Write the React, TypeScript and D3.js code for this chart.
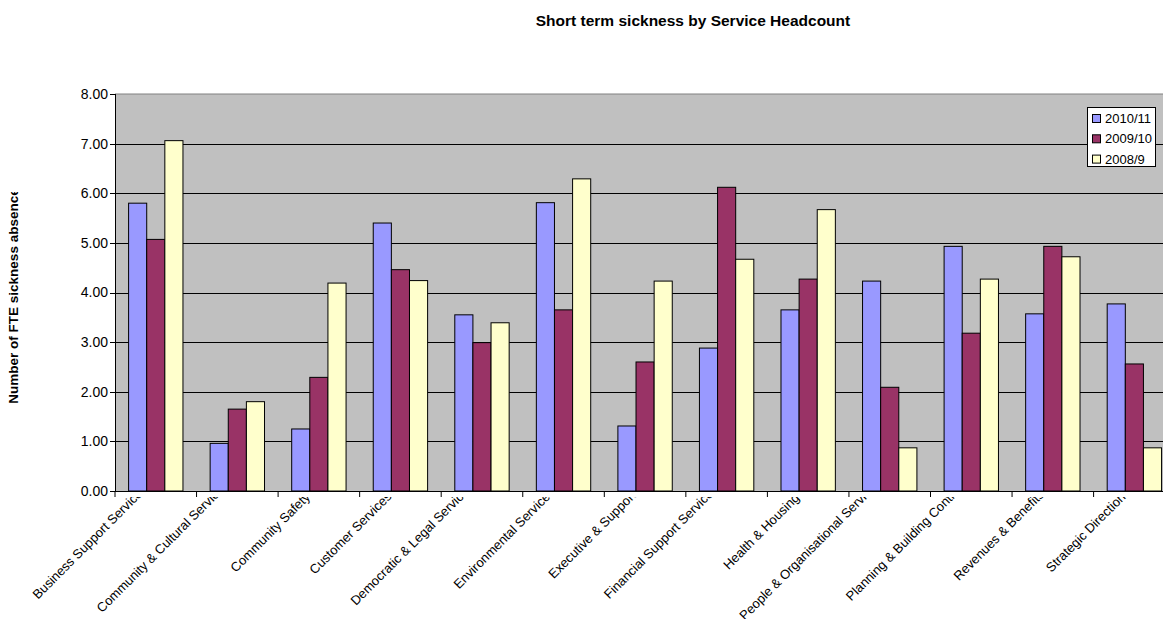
import React from 'react'
import * as d3 from 'd3'

const categories = [
  'Business Support Services',
  'Community & Cultural Services',
  'Community Safety',
  'Customer Services',
  'Democratic & Legal Services',
  'Environmental Services',
  'Executive & Support',
  'Financial Support Services',
  'Health & Housing',
  'People & Organisational Services',
  'Planning & Building Control',
  'Revenues & Benefits',
  'Strategic Direction'
]

const seriesNames = ['2010/11', '2009/10', '2008/9']
const seriesColors = ['#9999ff', '#993366', '#ffffcc']

const values201011 = [5.8, 0.96, 1.25, 5.4, 3.55, 5.81, 1.31, 2.88, 3.65, 4.23, 4.93, 3.57, 3.77]
const values200910 = [5.07, 1.65, 2.29, 4.46, 2.99, 3.65, 2.6, 6.12, 4.27, 2.09, 3.18, 4.93, 2.56]
const values20089 = [7.06, 1.8, 4.19, 4.24, 3.39, 6.29, 4.23, 4.67, 5.67, 0.87, 4.27, 4.72, 0.87]

const yTicks = [0, 1, 2, 3, 4, 5, 6, 7, 8]

const W = 1163
const H = 619
const plot = { left: 115, top: 94, bottom: 491, catW: 81.55 }
const font = '"Liberation Sans", Arial, sans-serif'

// measure label widths so long labels sit a bit higher, like Excel did
var measureCtx = null
const textWidth = (s, size) => {
  if (!measureCtx) measureCtx = document.createElement('canvas').getContext('2d')
  measureCtx.font = size + 'px "Liberation Sans", Arial, sans-serif'
  return measureCtx.measureText(s).width
}

const App = () => {
  const allSeries = [values201011, values200910, values20089]

  var x = d3
    .scaleBand()
    .domain(categories)
    .range([plot.left, plot.left + categories.length * plot.catW])
    .padding(0)

  var barW = x.bandwidth() / 4.5
  var inner = d3
    .scaleBand()
    .domain(seriesNames)
    .range([barW * 0.75, x.bandwidth() - barW * 0.75])
    .padding(0)

  var y = d3.scaleLinear().domain([0, 8]).range([plot.bottom, plot.top])

  var right = plot.left + categories.length * plot.catW
  var fmt = d3.format('.2f')

  return (
    <svg
      width={W}
      height={H}
      style={{ position: 'absolute', left: 0, top: 0, background: '#fff' }}
      fontFamily={font}
    >
      <defs>
        <clipPath id="xlab-clip">
          <rect x={0} y={497} width={W} height={H - 497} />
        </clipPath>
        <clipPath id="ytitle-clip">
          <rect x={0} y={192} width={60} height={300} />
        </clipPath>
      </defs>

      {/* title */}
      <text x={693} y={26} textAnchor="middle" fontSize={15.5} fontWeight="bold" fill="#000">
        Short term sickness by Service Headcount
      </text>

      {/* plot background */}
      <rect x={plot.left} y={plot.top} width={right - plot.left} height={plot.bottom - plot.top} fill="#c0c0c0" />
      <line x1={plot.left} x2={right} y1={plot.top} y2={plot.top} stroke="#808080" strokeWidth={1} />

      {/* gridlines */}
      {yTicks.slice(1, -1).map(t => (
        <line key={'g' + t} x1={plot.left} x2={right} y1={Math.round(y(t)) + 0.5} y2={Math.round(y(t)) + 0.5} stroke="#000" strokeWidth={1} />
      ))}

      {/* bars */}
      {categories.map((c, i) => (
        <g key={c} transform={'translate(' + x(c) + ',0)'}>
          {allSeries.map((vals, s) => (
            <rect
              key={s}
              x={inner(seriesNames[s])}
              y={y(vals[i])}
              width={inner.bandwidth()}
              height={y(0) - y(vals[i])}
              fill={seriesColors[s]}
              stroke="#000"
              strokeWidth={1}
            />
          ))}
        </g>
      ))}

      {/* y axis */}
      <line x1={plot.left + 0.5} x2={plot.left + 0.5} y1={plot.top} y2={plot.bottom} stroke="#000" />
      {yTicks.map(t => (
        <g key={'y' + t}>
          <line x1={plot.left - 5} x2={plot.left} y1={Math.round(y(t)) + 0.5} y2={Math.round(y(t)) + 0.5} stroke="#000" />
          <text x={108} y={y(t)} dy="0.35em" textAnchor="end" fontSize={14} fill="#000">
            {fmt(t)}
          </text>
        </g>
      ))}

      {/* x axis */}
      <line x1={plot.left} x2={right} y1={plot.bottom + 0.5} y2={plot.bottom + 0.5} stroke="#000" />
      {d3.range(categories.length + 1).map(i => (
        <line
          key={'xt' + i}
          x1={plot.left + i * plot.catW}
          x2={plot.left + i * plot.catW}
          y1={plot.bottom}
          y2={plot.bottom + 6}
          stroke="#000"
        />
      ))}
      <g clipPath="url(#xlab-clip)">
        {categories.map(c => {
          var cx = x(c) + x.bandwidth() / 2
          var L = textWidth(c, 13)
          var ye = 498 - 0.16 * (L - 105)
          return (
            <text
              key={'xl' + c}
              transform={'translate(' + (cx - 8) + ',' + ye + ') rotate(-45)'}
              textAnchor="end"
              fontSize={13}
              fill="#000"
            >
              {c}
            </text>
          )
        })}
      </g>

      {/* y axis title */}
      <g clipPath="url(#ytitle-clip)">
        <text transform="translate(18,296) rotate(-90)" textAnchor="middle" fontSize={13.5} fontWeight="bold" fill="#000">
          Number of FTE sickness absence
        </text>
      </g>

      {/* legend */}
      <rect x={1087.5} y={107.5} width={68} height={59} fill="#fff" stroke="#000" />
      {seriesNames.map((n, i) => (
        <g key={'lg' + n} transform={'translate(1092,' + (118.5 + i * 20.3) + ')'}>
          <rect x={0.5} y={-4} width={8} height={8} fill={seriesColors[i]} stroke="#000" />
          <text x={13} y={0} dy="0.36em" fontSize={13} fill="#000">
            {n}
          </text>
        </g>
      ))}
    </svg>
  )
}

export default App
